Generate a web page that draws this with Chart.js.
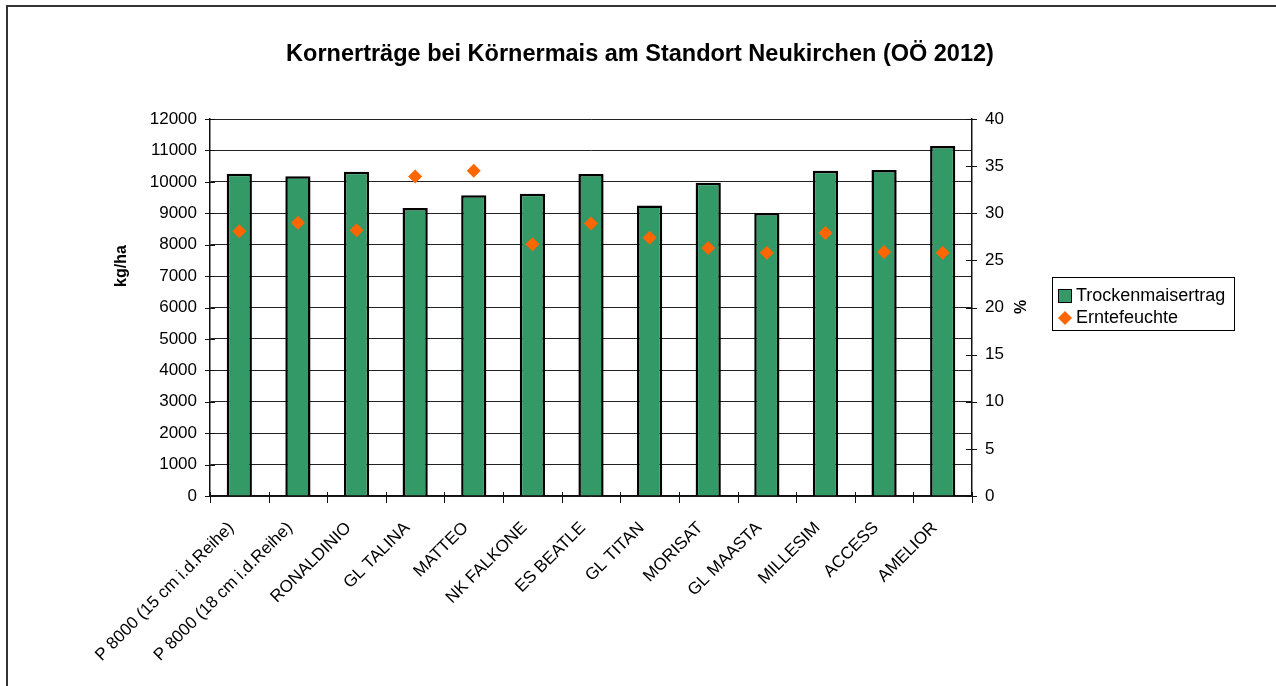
<!DOCTYPE html>
<html>
<head>
<meta charset="utf-8">
<script src="https://cdn.jsdelivr.net/npm/chart.js@4.4.1/dist/chart.umd.min.js"></script>
<style>
  html, body { margin: 0; padding: 0; background: #fff; overflow: hidden; }
  #wrap { position: relative; width: 1276px; height: 686px; }
  #frame { position: absolute; left: 6px; top: 5px; width: 1300px; height: 720px; border: 2px solid #333; box-sizing: border-box; }
  #c { position: absolute; left: 0; top: 0; }
</style>
</head>
<body>
<div id="wrap">
  <div id="frame"></div>
  <canvas id="c" width="1276" height="686"></canvas>
</div>
<script>
const categories = ["P 8000 (15 cm i.d.Reihe)", "P 8000 (18 cm i.d.Reihe)", "RONALDINIO", "GL TALINA", "MATTEO", "NK FALKONE", "ES BEATLE", "GL TITAN", "MORISAT", "GL MAASTA", "MILLESIM", "ACCESS", "AMELIOR"];
const yieldKgHa = [10260, 10180, 10320, 9170, 9570, 9620, 10250, 9250, 9970, 9010, 10350, 10380, 11140];
const moisturePct = [28.1, 29.0, 28.2, 33.9, 34.5, 26.7, 28.9, 27.4, 26.3, 25.8, 27.9, 25.9, 25.8];
const titleText = "Kornerträge bei Körnermais am Standort Neukirchen (OÖ 2012)";
const leftAxisTitle = "kg/ha";
const rightAxisTitle = "%";
const seriesNames = ["Trockenmaisertrag", "Erntefeuchte"];

const FONT = "'Liberation Sans', Arial, sans-serif";
const GREEN = "#339966";
const ORANGE = "#FF6600";

const decorations = {
  id: 'decorations',
  afterDraw(chart) {
    const ctx = chart.ctx, a = chart.chartArea;
    ctx.save();
    ctx.strokeStyle = '#111';
    ctx.lineWidth = 1;
    const y = chart.scales.y, y1 = chart.scales.y1;
    ctx.beginPath();
    y.ticks.forEach(t => {
      const p = Math.round(y.getPixelForValue(t.value)) + 0.5;
      ctx.moveTo(a.left - 5, p); ctx.lineTo(a.left + 5, p);
    });
    y1.ticks.forEach(t => {
      const p = Math.round(y1.getPixelForValue(t.value)) + 0.5;
      ctx.moveTo(a.right - 6, p); ctx.lineTo(a.right + 5, p);
    });
    const n = categories.length;
    for (let i = 0; i <= n; i++) {
      const p = Math.round(a.left + i * (a.right - a.left) / n) + 0.5;
      ctx.moveTo(p, a.bottom - 4); ctx.lineTo(p, a.bottom + 7);
    }
    ctx.stroke();

    // chart title
    ctx.fillStyle = '#000';
    ctx.textAlign = 'center';
    ctx.textBaseline = 'middle';
    ctx.font = 'bold 23.5px ' + FONT;
    ctx.fillText(titleText, 640, 55);

    // axis titles
    ctx.font = 'bold 16px ' + FONT;
    ctx.save();
    ctx.translate(122, 266);
    ctx.rotate(-Math.PI / 2);
    ctx.fillText(leftAxisTitle, 0, 0);
    ctx.restore();
    ctx.save();
    ctx.translate(1022, 307);
    ctx.rotate(-Math.PI / 2);
    ctx.fillText(rightAxisTitle, 0, 0);
    ctx.restore();

    // legend
    const ds = chart.data.datasets;
    const bx = 1052.5, by = 277.5, bw = 182, bh = 53;
    ctx.strokeStyle = '#000';
    ctx.lineWidth = 1;
    ctx.strokeRect(bx, by, bw, bh);
    ctx.font = '18px ' + FONT;
    ctx.textAlign = 'left';
    ctx.fillStyle = ds[1].backgroundColor;
    ctx.fillRect(1058, 289.5, 13, 13);
    ctx.strokeRect(1058.5, 289.5, 13, 13);
    ctx.fillStyle = '#000';
    ctx.fillText(ds[1].label, 1076, 296);
    ctx.fillStyle = ds[0].backgroundColor;
    ctx.beginPath();
    const cx = 1065, cy = 318, r = 7;
    ctx.moveTo(cx - r, cy); ctx.lineTo(cx, cy - r); ctx.lineTo(cx + r, cy); ctx.lineTo(cx, cy + r); ctx.closePath();
    ctx.fill();
    ctx.fillStyle = '#000';
    ctx.fillText(ds[0].label, 1076, 318);
    ctx.restore();
  }
};

new Chart(document.getElementById('c'), {
  data: {
    labels: categories,
    datasets: [
      {
        type: 'line',
        label: seriesNames[1],
        data: moisturePct,
        yAxisID: 'y1',
        showLine: false,
        pointStyle: 'rectRot',
        pointRadius: 7,
        pointHoverRadius: 7,
        pointBorderWidth: 0,
        backgroundColor: ORANGE,
        borderColor: ORANGE,
        order: 0
      },
      {
        type: 'bar',
        label: seriesNames[0],
        data: yieldKgHa,
        yAxisID: 'y',
        backgroundColor: GREEN,
        borderColor: '#000',
        borderWidth: 2.5,
        barPercentage: 0.43,
        categoryPercentage: 1.0,
        order: 1
      }
    ]
  },
  options: {
    responsive: false,
    animation: false,
    events: [],
    layout: { padding: { left: 0, right: 244, top: 119, bottom: 0 } },
    plugins: {
      legend: { display: false },
      tooltip: { enabled: false },
      title: { display: false }
    },
    scales: {
      x: {
        type: 'category',
        offset: true,
        grid: { display: false, drawTicks: false },
        border: { display: true, color: '#111', width: 1.5 },
        ticks: {
          autoSkip: false,
          maxRotation: 45,
          minRotation: 45,
          padding: 22,
          labelOffset: -8,
          color: '#000',
          font: { family: FONT, size: 17 }
        },
        afterFit(s) { s.height = 190; }
      },
      y: {
        type: 'linear',
        position: 'left',
        min: 0,
        max: 12000,
        grid: { display: true, color: '#222', lineWidth: 1, drawTicks: false },
        border: { display: true, color: '#111', width: 1.5 },
        ticks: {
          stepSize: 1000,
          padding: 13,
          color: '#000',
          font: { family: FONT, size: 17 },
          callback: v => String(v)
        },
        afterFit(s) { s.width = 210; }
      },
      y1: {
        type: 'linear',
        position: 'right',
        min: 0,
        max: 40,
        grid: { display: false, drawTicks: false },
        border: { display: true, color: '#111', width: 1.5 },
        ticks: {
          stepSize: 5,
          padding: 13,
          color: '#000',
          font: { family: FONT, size: 17 }
        },
        afterFit(s) { s.width = 60; }
      }
    }
  },
  plugins: [decorations]
});
</script>
</body>
</html>
